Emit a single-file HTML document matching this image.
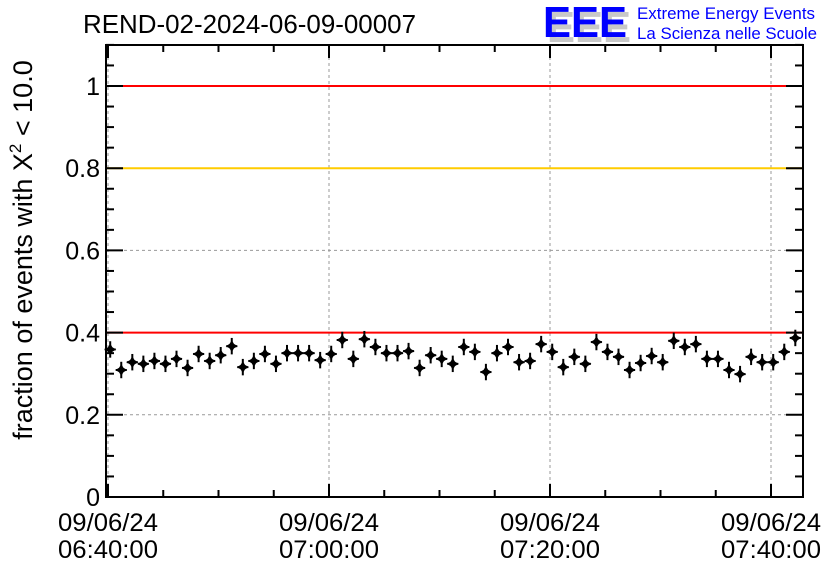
<!DOCTYPE html>
<html><head><meta charset="utf-8"><style>
body{margin:0;background:#fff;}
svg{display:block;font-family:"Liberation Sans",sans-serif;}
</style></head><body>
<svg id="chart" width="836" height="572">
<rect width="836" height="572" fill="#fff"/>
<text x="83" y="33" font-size="25.5" fill="#000" textLength="333" lengthAdjust="spacingAndGlyphs">REND-02-2024-06-09-00007</text>
<g>
<text x="547" y="42" font-size="44" font-weight="bold" fill="#c8c8c8" textLength="84" lengthAdjust="spacingAndGlyphs">EEE</text>
<text x="543" y="37" font-size="44" font-weight="bold" fill="#0000ff" textLength="84" lengthAdjust="spacingAndGlyphs">EEE</text>
<text x="637" y="19" font-size="16.5" fill="#0000ff" textLength="178" lengthAdjust="spacingAndGlyphs">Extreme Energy Events</text>
<text x="637" y="39" font-size="16.5" fill="#0000ff" textLength="180" lengthAdjust="spacingAndGlyphs">La Scienza nelle Scuole</text>
</g>
<g id="grid"></g>
<g id="refs"></g>
<g id="axes"></g>
<g id="points"></g>
<text transform="translate(32,250) rotate(-90)" text-anchor="middle" font-size="27">fraction of events with X<tspan dy="-11" font-size="17">2</tspan><tspan dy="11"> &lt; 10.0</tspan></text>
</svg>
<script>
const values=[0.359,0.309,0.328,0.324,0.331,0.324,0.336,0.314,0.348,0.331,0.345,0.367,0.316,0.331,0.348,0.324,0.350,0.350,0.350,0.333,0.348,0.382,0.336,0.384,0.365,0.350,0.350,0.355,0.314,0.345,0.336,0.324,
0.365,0.353,0.304,0.350,0.365,0.328,0.331,0.372,0.353,0.316,0.341,0.324,0.377,0.353,0.341,0.309,0.326,0.343,0.328,0.380,0.365,0.372,0.336,0.336,0.309,0.299,0.341,0.328,0.328,0.353,0.387];
const errors=values.map(()=>0.02);
const refLines=[1.0,0.8,0.4];
const refColors=["#ff0000","#ffcc00","#ff0000"];
const yTicks=[0,0.2,0.4,0.6,0.8,1];
const yTickLabels=["0","0.2","0.4","0.6","0.8","1"];
const xTicks=[0,20,40,60];
const xTickLabels1=["09/06/24","09/06/24","09/06/24","09/06/24"];
const xTickLabels2=["06:40:00","07:00:00","07:20:00","07:40:00"];
const L=106,R=803,T=45,B=497;
const X=m=>108+m*(329-108)/20;
const Y=v=>B-v*(B-86);
const NS="http://www.w3.org/2000/svg";
function mk(p,tag,a){const e=document.createElementNS(NS,tag);for(const k in a)e.setAttribute(k,a[k]);p.appendChild(e);return e;}
const grid=document.getElementById('grid'),axes=document.getElementById('axes'),pts=document.getElementById('points'),refs=document.getElementById('refs');
xTicks.forEach(t=>{const e=mk(grid,'line',{x1:X(t),x2:X(t),y1:T,y2:B,stroke:'#999','stroke-dasharray':'3,3','stroke-width':1});

});
yTicks.forEach(t=>{if(t===0)return;const e=mk(grid,'line',{x1:L,x2:R,y1:Y(t),y2:Y(t),stroke:'#999','stroke-dasharray':'3,3','stroke-width':1});

});
refLines.forEach((v,i)=>{const e=mk(refs,'line',{x1:L,x2:R,y1:Y(v),y2:Y(v),stroke:refColors[i],'stroke-width':2});

});
const fr=mk(axes,'rect',{x:L,y:T,width:R-L,height:B-T,fill:'none',stroke:'#000','stroke-width':2});


for(let v=0;v<=1.1001;v+=0.05){const maj=Math.abs(v/0.2-Math.round(v/0.2))<1e-6;const len=maj?17:8;
mk(axes,'line',{x1:L,x2:L+len,y1:Y(v),y2:Y(v),stroke:'#000','stroke-width':2});
mk(axes,'line',{x1:R,x2:R-len,y1:Y(v),y2:Y(v),stroke:'#000','stroke-width':2});}
for(let m=0;m<=62;m+=5){const maj=m%20===0;const len=maj?13:7;
mk(axes,'line',{x1:X(m),x2:X(m),y1:B,y2:B-len,stroke:'#000','stroke-width':2});
mk(axes,'line',{x1:X(m),x2:X(m),y1:T,y2:T+len,stroke:'#000','stroke-width':2});}
yTicks.forEach((t,i)=>{const e=mk(axes,'text',{x:100,y:Y(t)+9,'text-anchor':'end','font-size':25});e.textContent=yTickLabels[i];

});
xTicks.forEach((t,i)=>{const e=mk(axes,'text',{x:X(t),y:531,'text-anchor':'middle','font-size':25,textLength:100,lengthAdjust:'spacingAndGlyphs'});e.textContent=xTickLabels1[i];


const f=mk(axes,'text',{x:X(t),y:558,'text-anchor':'middle','font-size':25,textLength:100,lengthAdjust:'spacingAndGlyphs'});f.textContent=xTickLabels2[i];

});
values.forEach((v,i)=>{const m=i+0.2;const g=mk(pts,'g',{});


const cx=X(m),cy=Y(v);
mk(g,'line',{x1:X(m-0.5),x2:X(m+0.5),y1:cy,y2:cy,stroke:'#000','stroke-width':2});
mk(g,'line',{x1:cx,x2:cx,y1:Y(v+errors[i]),y2:Y(v-errors[i]),stroke:'#000','stroke-width':2});
mk(g,'path',{d:`M${cx} ${cy-6}L${cx+3.5} ${cy}L${cx} ${cy+6}L${cx-3.5} ${cy}Z`,fill:'#000'});
mk(g,'path',{d:`M${cx-6} ${cy}L${cx} ${cy-3.5}L${cx+6} ${cy}L${cx} ${cy+3.5}Z`,fill:'#000'});});
</script>
</body></html>
